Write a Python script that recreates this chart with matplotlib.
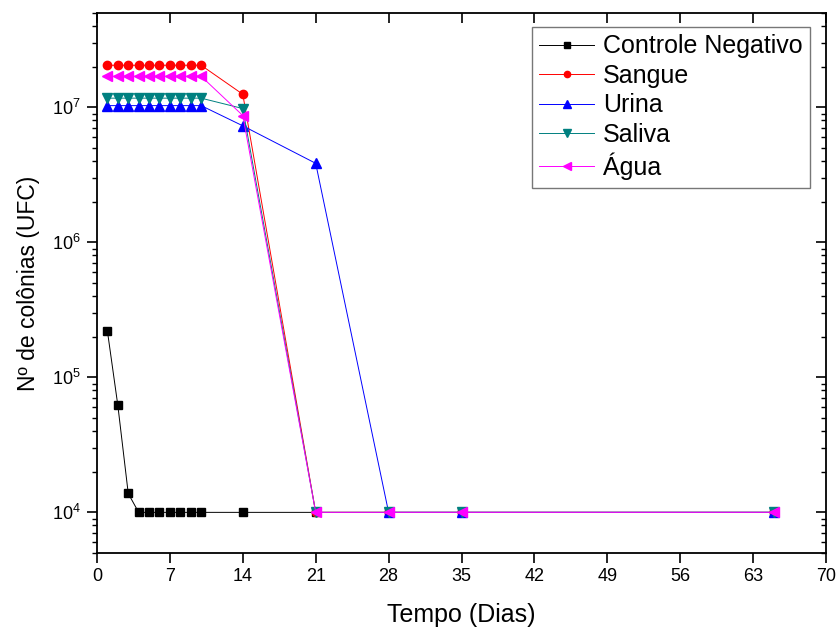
import matplotlib
matplotlib.use("Agg")
import matplotlib.pyplot as plt
from matplotlib.ticker import LogLocator, FixedLocator, NullFormatter

plt.rcParams['font.family'] = ['Liberation Sans', 'DejaVu Sans']
plt.rcParams['mathtext.fontset'] = 'custom'
plt.rcParams['mathtext.rm'] = 'Liberation Sans'
plt.rcParams['mathtext.it'] = 'Liberation Sans'
plt.rcParams['mathtext.default'] = 'regular'

dias_ctrl = [1, 2, 3, 4, 5, 6, 7, 8, 9, 10, 14, 21, 28, 35, 65]
ctrl = [2.2e5, 6.2e4, 1.38e4, 1e4, 1e4, 1e4, 1e4, 1e4, 1e4, 1e4, 1e4, 1e4, 1e4, 1e4, 1e4]

dias = [1, 2, 3, 4, 5, 6, 7, 8, 9, 10, 14, 21, 28, 35, 65]
sangue = [2.05e7] * 10 + [1.25e7, 1e4, 1e4, 1e4, 1e4]
urina = [1.03e7] * 10 + [7.3e6, 3.85e6, 1e4, 1e4, 1e4]
saliva = [1.17e7] * 10 + [9.8e6, 1e4, 1e4, 1e4, 1e4]
agua = [1.7e7] * 10 + [8.7e6, 1e4, 1e4, 1e4, 1e4]

x_ticks = [0, 7, 14, 21, 28, 35, 42, 49, 56, 63, 70]

fig = plt.figure(figsize=(8.38, 6.37), dpi=100)
ax = fig.add_axes([97/838, 1 - 553/637, (826 - 97)/838, (553 - 13)/637])

lw = 0.7
ax.plot(dias_ctrl, ctrl, color='black', marker='s', ms=5.5, lw=lw, label='Controle Negativo')
ax.plot(dias, sangue, color='red', marker='o', ms=6, lw=lw, label='Sangue')
ax.plot(dias, urina, color='blue', marker='^', ms=7, lw=lw, label='Urina')
ax.plot(dias, saliva, color='#008080', marker='v', ms=7, lw=lw, label='Saliva')
ax.plot(dias, agua, color='magenta', marker='<', ms=7, lw=lw, label='Água')

ax.set_yscale('log')
ax.set_ylim(5e3, 5e7)
ax.set_xlim(0, 70)
ax.xaxis.set_major_locator(FixedLocator(x_ticks))
ax.yaxis.set_major_locator(LogLocator(base=10, numticks=10))
ax.yaxis.set_minor_locator(LogLocator(base=10, subs=range(2, 10), numticks=10))
ax.yaxis.set_minor_formatter(NullFormatter())

ax.tick_params(axis='both', which='major', labelsize=13, width=1.2, length=7)
ax.tick_params(axis='y', which='minor', width=1, length=3.5)
ax.tick_params(axis='y', which='major', pad=5)
ax.tick_params(top=True, right=True, which='both')
ax.tick_params(axis='both', which='both', direction='out')
# top/right ticks inward
for t in ax.xaxis.get_major_ticks():
    t.tick2line.set_marker(3)
for t in ax.yaxis.get_major_ticks() + ax.yaxis.get_minor_ticks():
    t.tick2line.set_marker(0)

for s in ax.spines.values():
    s.set_linewidth(1.3)

ax.set_xlabel('Tempo (Dias)', fontsize=18, labelpad=13)
ax.set_ylabel('Nº de colônias (UFC)', fontsize=16.5, labelpad=8)

leg = ax.legend(loc='upper right', fontsize=18, frameon=True, fancybox=False,
                edgecolor='#555555', handlelength=2.2, borderpad=0.3,
                labelspacing=0.22, handletextpad=0.35, borderaxespad=0,
                bbox_to_anchor=((810 - 97) / 729, 1 - (27 - 13) / 540),
                markerscale=0.75)
leg.get_frame().set_linewidth(1.0)

fig.savefig('out.png', dpi=100)
